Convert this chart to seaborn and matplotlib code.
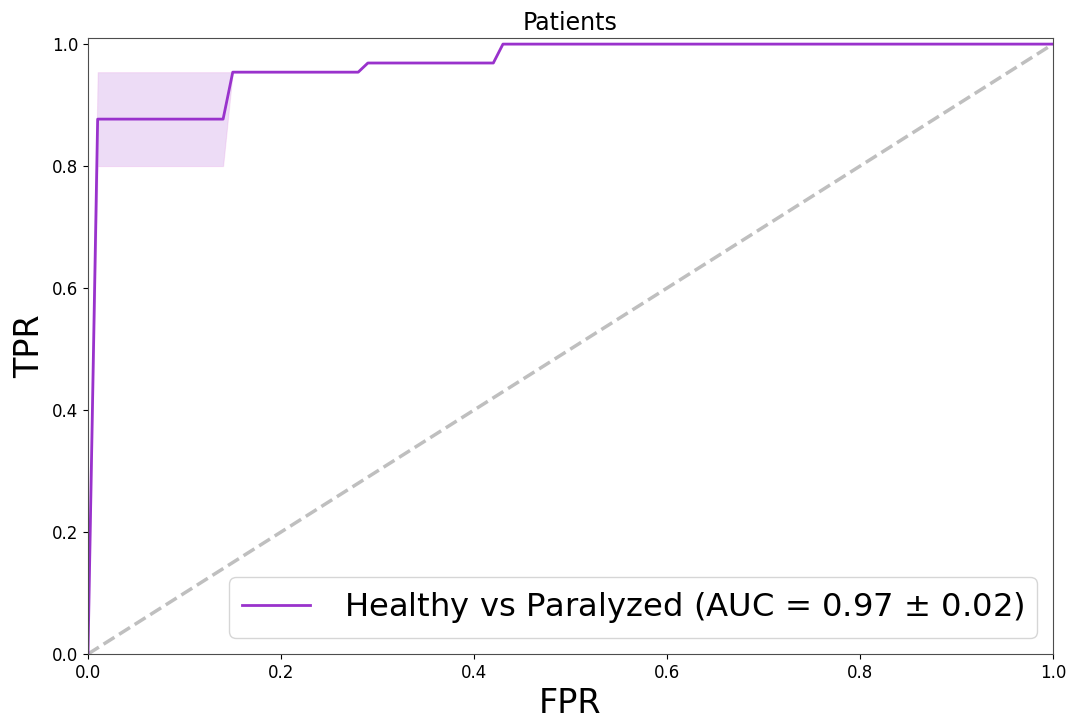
import numpy as np
import pandas as pd
import matplotlib
matplotlib.use("Agg")
import matplotlib.pyplot as plt
import seaborn as sns

# Mean ROC curve breakpoints
fpr_points = [0.0, 0.01, 0.14, 0.15, 0.28, 0.29, 0.42, 0.43, 1.0]
tpr_mean = [0.0, 0.877, 0.877, 0.954, 0.954, 0.969, 0.969, 1.0, 1.0]
tpr_lower = [0.0, 0.80, 0.80, 0.954, 0.954, 0.969, 0.969, 1.0, 1.0]
tpr_upper = [0.0, 0.954, 0.954, 0.954, 0.954, 0.969, 0.969, 1.0, 1.0]
chance = [0.0, 1.0]
series_label = "Healthy vs Paralyzed (AUC = 0.97 $\\pm$ 0.02)"
title = "Patients"
xticks = [0.0, 0.2, 0.4, 0.6, 0.8, 1.0]
yticks = [0.0, 0.2, 0.4, 0.6, 0.8, 1.0]

df = pd.DataFrame({"FPR": fpr_points, "TPR": tpr_mean})

fig = plt.figure(figsize=(10.74, 7.18), dpi=100)
ax = fig.add_axes([88 / 1074, 1 - 654 / 718, (1053 - 88) / 1074, (654 - 38) / 718])

ax.fill_between(fpr_points, tpr_lower, tpr_upper, facecolor="darkorchid", alpha=0.17,
                edgecolor="orchid", lw=0.8)
ax.plot(chance, chance, linestyle="--", color="gray", alpha=0.5, lw=2.5)
sns.lineplot(data=df, x="FPR", y="TPR", color="darkorchid", lw=2, label=series_label,
             ax=ax, sort=False, estimator=None)

ax.set_xlim(0, 1)
ax.set_ylim(0, 1.01)
ax.set_xticks(xticks)
ax.set_yticks(yticks)
ax.tick_params(labelsize=12)
ax.set_xlabel("FPR", fontsize=24, labelpad=4)
ax.set_ylabel("TPR", fontsize=24)
ax.set_title(title, fontsize=17)
for s in ax.spines.values():
    s.set_color("0.3")
leg = ax.legend(loc="lower right", fontsize=23.2, handlelength=2.1, handletextpad=1.05)

fig.savefig("out.png", dpi=100)
